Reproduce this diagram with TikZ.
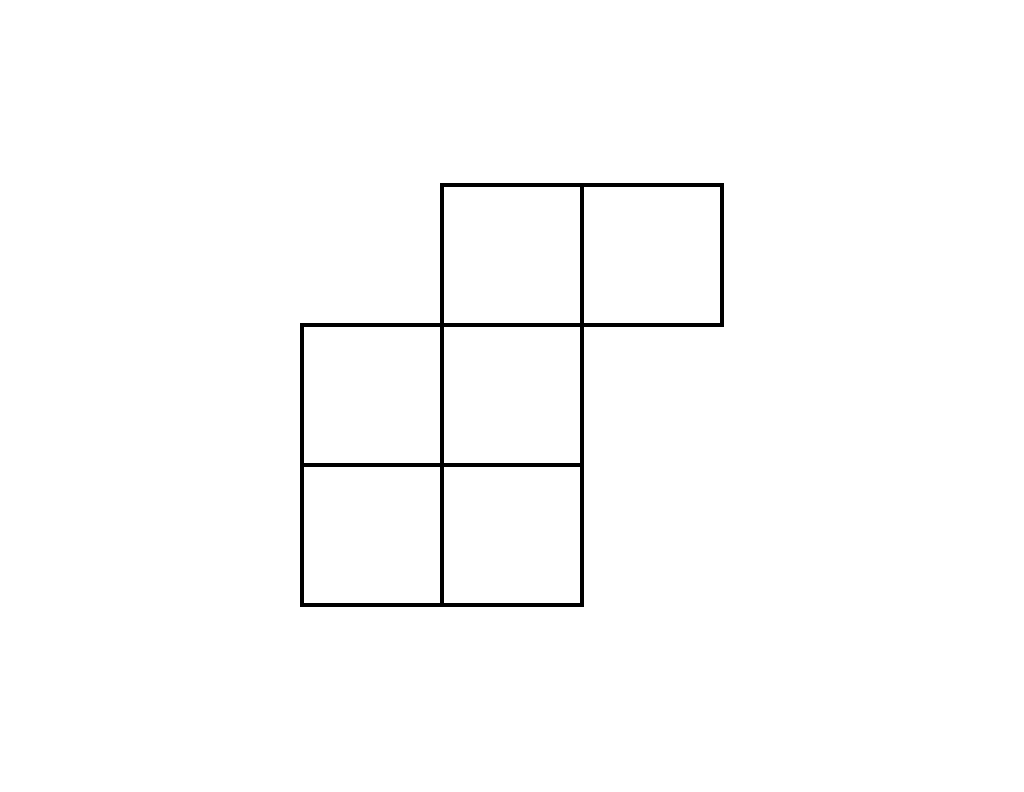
\documentclass[tikz,border=0pt]{standalone}
\usepackage{tikz}
\begin{document}
\begin{tikzpicture}[
  cell/.style={draw=black, line width=1pt}
]

% --- Page frame ---
\useasboundingbox (0,0) rectangle (7.3143,5.65);

% --- Cells of the diagram (lower left corners) ---
\foreach \cx/\cy in {3.157/4.3286, 4.157/4.3286,
                     2.157/3.3286, 3.157/3.3286,
                     2.157/2.3286, 3.157/2.3286}
  \draw[cell] (\cx,\cy-1) rectangle ++(1,1);

\end{tikzpicture}
\end{document}
